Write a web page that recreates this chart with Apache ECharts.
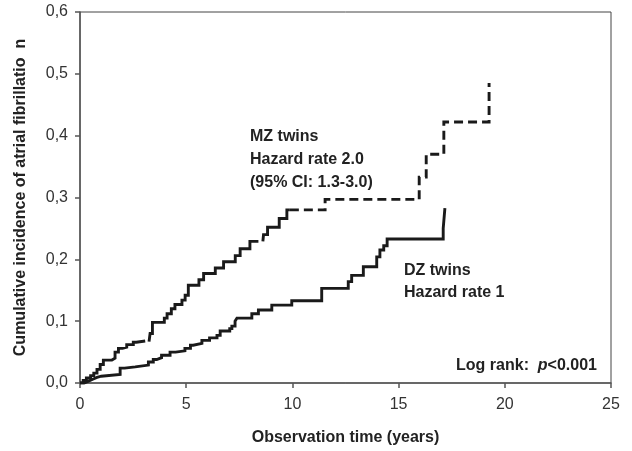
<!DOCTYPE html>
<html>
<head>
<meta charset="utf-8">
<script src="https://cdn.jsdelivr.net/npm/echarts@6/dist/echarts.min.js"></script>
<style>
html,body{margin:0;padding:0;background:#fff;}
#c{width:632px;height:451px;}
</style>
</head>
<body>
<div id="c"></div>
<script>
// ---- Data (time in years, cumulative incidence) ----
var xTicks = [0, 5, 10, 15, 20, 25];
var yTicks = [0, 0.1, 0.2, 0.3, 0.4, 0.5, 0.6];

// MZ twins: solid segments (with small gaps), then dashed tail
var mzSolid1 = [[0,0],[0.15,0.004],[0.3,0.008],[0.5,0.012],[0.65,0.016],[0.8,0.022],[0.95,0.03],[1.1,0.037],[1.5,0.04],[1.65,0.05],[1.81,0.056],[2.0,0.058],[2.2,0.062],[2.51,0.066],[2.65,0.068],[3.07,0.068]];
var mzSolid2 = [[3.25,0.067],[3.3,0.08],[3.41,0.098],[3.97,0.105],[4.1,0.112],[4.3,0.12],[4.47,0.127],[4.8,0.134],[4.95,0.142],[5.1,0.158],[5.6,0.167],[5.82,0.177],[6.37,0.186],[6.76,0.196],[7.31,0.206],[7.54,0.217],[8.0,0.229],[8.4,0.229]];
var mzSolid3 = [[8.61,0.229],[8.64,0.24],[8.83,0.252],[9.38,0.266],[9.74,0.28],[9.88,0.28]];
var mzDashed = [[9.88,0.28],[11.54,0.297],[15.97,0.333],[16.3,0.370],[17.13,0.422],[19.26,0.485]];

// DZ twins: solid
var dzSolid = [[0,0],[0.2,0.003],[0.4,0.006],[0.6,0.009],[0.8,0.011],[1.0,0.014],[1.89,0.024],[2.1,0.026],[2.6,0.029],[3.22,0.034],[3.45,0.038],[3.61,0.041],[3.84,0.045],[4.24,0.05],[4.5,0.052],[4.94,0.056],[5.2,0.061],[5.33,0.064],[5.74,0.069],[6.1,0.073],[6.45,0.077],[6.6,0.084],[7.05,0.088],[7.15,0.092],[7.3,0.1],[7.39,0.105],[8.09,0.112],[8.4,0.118],[9.03,0.126],[9.97,0.133],[11.38,0.153],[12.63,0.164],[12.79,0.174],[13.34,0.188],[13.97,0.204],[14.12,0.215],[14.3,0.222],[14.46,0.233],[17.1,0.25],[17.18,0.283]];

var labelsMZ = ['MZ twins', 'Hazard rate 2.0', '(95% CI: 1.3-3.0)'];
var labelsDZ = ['DZ twins', 'Hazard rate 1'];

var FONT = 'Liberation Sans, Arial, Helvetica, sans-serif';
var INK = '#1a1a1a';

function lineSeries(data, dashed) {
  return {
    type: 'line',
    data: data,
    step: 'end',
    showSymbol: false,
    symbol: 'none',
    animation: false,
    lineStyle: { color: INK, width: 2.9, type: dashed ? [9, 5] : 'solid', cap: 'butt', join: 'miter' },
    z: 3
  };
}

var chart = echarts.init(document.getElementById('c'), null, { renderer: 'canvas' });
chart.setOption({
  animation: false,
  backgroundColor: '#fff',
  grid: { left: 80, right: 21, top: 12, bottom: 66, show: true, borderColor: '#444', borderWidth: 1, backgroundColor: 'transparent' },
  xAxis: {
    type: 'value', min: xTicks[0], max: xTicks[xTicks.length - 1], interval: 5,
    name: 'Observation time (years)', nameLocation: 'middle', nameGap: 47,
    nameTextStyle: { fontFamily: FONT, fontSize: 16, fontWeight: 'bold', color: '#222' },
    axisLine: { show: true, lineStyle: { color: '#555', width: 1.5 } },
    axisTick: { show: true, length: 5, lineStyle: { color: '#555', width: 1.5 } },
    axisLabel: { fontFamily: FONT, fontSize: 16, color: '#333', margin: 14 },
    splitLine: { show: false }
  },
  yAxis: {
    type: 'value', min: yTicks[0], max: yTicks[yTicks.length - 1], interval: 0.1,
    name: 'Cumulative incidence of atrial fibrillatio  n', nameLocation: 'middle', nameGap: 51, nameRotate: 90,
    nameTextStyle: { fontFamily: FONT, fontSize: 16, fontWeight: 'bold', color: '#222' },
    axisLine: { show: true, lineStyle: { color: '#555', width: 1.5 } },
    axisTick: { show: true, length: 5, lineStyle: { color: '#555', width: 1.5 } },
    axisLabel: { fontFamily: FONT, fontSize: 16, color: '#333', margin: 12,
      formatter: function (v) { return v.toFixed(1).replace('.', ','); } },
    splitLine: { show: false }
  },
  series: [
    lineSeries(mzSolid1, false),
    lineSeries(mzSolid2, false),
    lineSeries(mzSolid3, false),
    lineSeries(mzDashed, true),
    lineSeries(dzSolid, false)
  ],
  graphic: [
    { type: 'text', left: 250, top: 125, style: { text: labelsMZ.join('\n'), font: 'bold 16px ' + FONT, fill: '#222', lineHeight: 23 } },
    { type: 'text', left: 404, top: 260, style: { text: labelsDZ.join('\n'), font: 'bold 16px ' + FONT, fill: '#222', lineHeight: 22 } },
    { type: 'text', right: 35, top: 358, style: { rich: { a: { fontFamily: FONT, fontSize: 16, fontWeight: 'bold', fill: '#222' }, p: { fontFamily: FONT, fontSize: 16, fontWeight: 'bold', fontStyle: 'italic', fill: '#222' } }, text: '{a|Log rank:  }{p|p}{a|<0.001}' } }
  ]
});
</script>
</body>
</html>
